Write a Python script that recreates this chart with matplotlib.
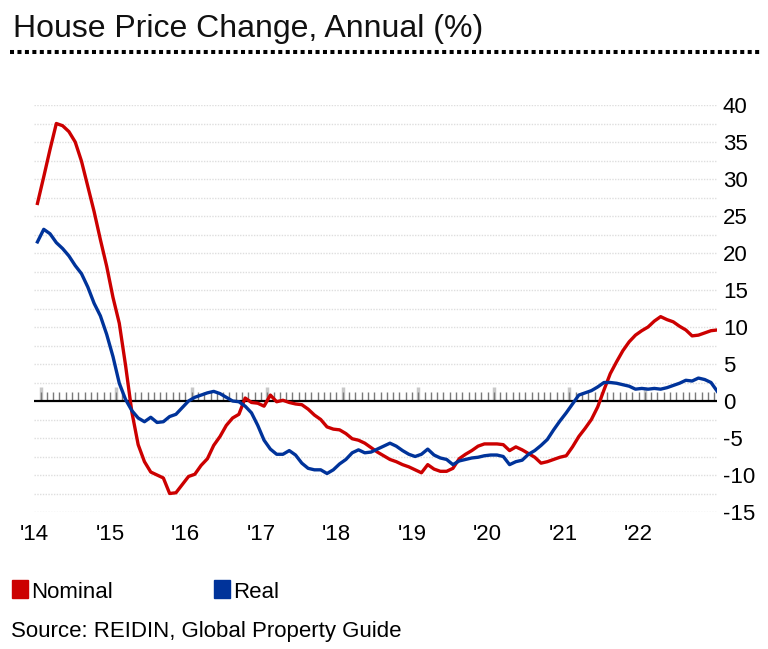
import numpy as np
import matplotlib
matplotlib.use('Agg')
import matplotlib.pyplot as plt
from matplotlib.lines import Line2D
from matplotlib.patches import Rectangle

# === DATA (monthly, annual % change) ===
nominal = [
    26.7, 30.3, 34.0, 37.5, 37.2, 36.4, 35.0, 32.4, 29.0, 25.6, 21.8, 18.2,
    14.0, 10.5, 4.8, -1.5, -5.9, -8.2, -9.6, -10.0, -10.4, -12.5, -12.4, -11.3,
    -10.2, -9.9, -8.7, -7.8, -6.0, -4.8, -3.3, -2.3, -1.8, 0.4, -0.2, -0.3,
    -0.7, 0.8, -0.1, 0.1, -0.2, -0.4, -0.5, -1.1, -1.9, -2.5, -3.5, -3.8,
    -3.9, -4.4, -5.1, -5.3, -5.7, -6.3, -6.9, -7.4, -7.9, -8.2, -8.6, -8.9,
    -9.3, -9.7, -8.6, -9.2, -9.5, -9.5, -9.1, -7.8, -7.2, -6.7, -6.1, -5.8,
    -5.8, -5.8, -5.9, -6.7, -6.2, -6.6, -7.1, -7.6, -8.4, -8.2, -7.9, -7.6,
    -7.4, -6.2, -4.8, -3.7, -2.5, -0.8, 1.5, 3.7, 5.3, 6.8, 8.0, 8.9,
    9.5, 10.0, 10.8, 11.4, 11.0, 10.7, 10.1, 9.6, 8.8, 8.9, 9.2, 9.5,
    9.6,
]
real = [
    21.5, 23.2, 22.6, 21.4, 20.6, 19.6, 18.3, 17.2, 15.4, 13.2, 11.5, 9.0,
    6.0, 2.4, 0.2, -1.3, -2.3, -2.8, -2.2, -2.9, -2.8, -2.1, -1.8, -0.9,
    0.0, 0.5, 0.8, 1.1, 1.3, 1.0, 0.5, 0.0, -0.1, -0.7, -1.6, -3.3,
    -5.3, -6.5, -7.2, -7.2, -6.7, -7.3, -8.4, -9.1, -9.3, -9.3, -9.8, -9.3,
    -8.5, -7.9, -7.0, -6.6, -7.0, -6.9, -6.5, -6.1, -5.7, -6.1, -6.7, -7.2,
    -7.5, -7.2, -6.5, -7.3, -7.7, -7.9, -8.6, -8.1, -7.9, -7.7, -7.6, -7.4,
    -7.3, -7.3, -7.5, -8.6, -8.2, -8.0, -7.2, -6.7, -6.0, -5.2, -3.9, -2.7,
    -1.6, -0.4, 0.8, 1.1, 1.4, 1.9, 2.5, 2.5, 2.4, 2.2, 2.0, 1.6,
    1.7, 1.6, 1.7, 1.6, 1.8, 2.1, 2.4, 2.8, 2.7, 3.1, 2.9, 2.5,
    1.3,
]
year_labels = ["'14", "'15", "'16", "'17", "'18", "'19", "'20", "'21", "'22"]
y_ticks = [-15, -10, -5, 0, 5, 10, 15, 20, 25, 30, 35, 40]

RED = '#cc0000'
BLUE = '#00339a'
plt.rcParams['font.family'] = ['Liberation Sans', 'DejaVu Sans']

W, H = 768, 649
fig = plt.figure(figsize=(W / 100, H / 100), dpi=100)
fig.patch.set_facecolor('white')


def fx(px):
    return px / W


def fy(py):
    return 1 - py / H


# plot area in pixels: x 34..717, y 105..512
left, right, top, bottom = 34.3, 717.3, 105, 512
ax = fig.add_axes([fx(left), fy(bottom), (right - left) / W, (bottom - top) / H])

months = np.arange(len(nominal))
ax.set_xlim(0, len(nominal) - 1)
ax.set_ylim(-15, 40)

# light dotted grid every 2.5
for g in np.arange(-15, 40.1, 2.5):
    if g == 0:
        continue
    ax.axhline(g, color='#dedede', lw=1.0, ls=(0, (1, 1)), zorder=0)

# month ticks sitting on the zero line
tick_x = np.arange(0.5, len(nominal), 1.0)
ax.vlines(tick_x, 0, 1.15, color='#7a7a7a', lw=1.0, zorder=1)
ax.vlines(tick_x[::12], 0, 1.9, color='#c8c8c8', lw=2.5, zorder=0.9)
ax.axhline(0, color='black', lw=1.6, zorder=2)

ax.plot(months, nominal, color=RED, lw=2.4, zorder=3, solid_joinstyle='round')
ax.plot(months, real, color=BLUE, lw=2.4, zorder=3, solid_joinstyle='round')

for s in ax.spines.values():
    s.set_visible(False)

ax.yaxis.tick_right()
ax.set_yticks(y_ticks)
ax.set_yticklabels([str(v) for v in y_ticks])
ax.tick_params(axis='y', length=0, pad=4, labelsize=16)
ax.set_xticks(np.arange(len(year_labels)) * 12 - 0.5)
ax.set_xticklabels(year_labels)
ax.tick_params(axis='x', length=0, pad=9, labelsize=16)

# title and dotted rule
fig.text(fx(13), fy(37), 'House Price Change, Annual (%)', fontsize=23,
         va='baseline', ha='left', color='#111111')
fig.add_artist(Line2D([fx(10), fx(762)], [fy(52), fy(52)], color='black',
                      lw=2.9, ls=(0, (1, 0.85)), solid_capstyle='butt'))

# legend
fig.add_artist(Rectangle((fx(12), fy(598)), 16 / W, 18 / H, color=RED))
fig.text(fx(31), fy(598), 'Nominal', fontsize=16, va='baseline', ha='left')
fig.add_artist(Rectangle((fx(214), fy(598)), 16 / W, 18 / H, color=BLUE))
fig.text(fx(233), fy(598), 'Real', fontsize=16, va='baseline', ha='left')

fig.text(fx(11), fy(637), 'Source: REIDIN, Global Property Guide', fontsize=16,
         va='baseline', ha='left')

fig.savefig('out.png', dpi=100, facecolor='white')
